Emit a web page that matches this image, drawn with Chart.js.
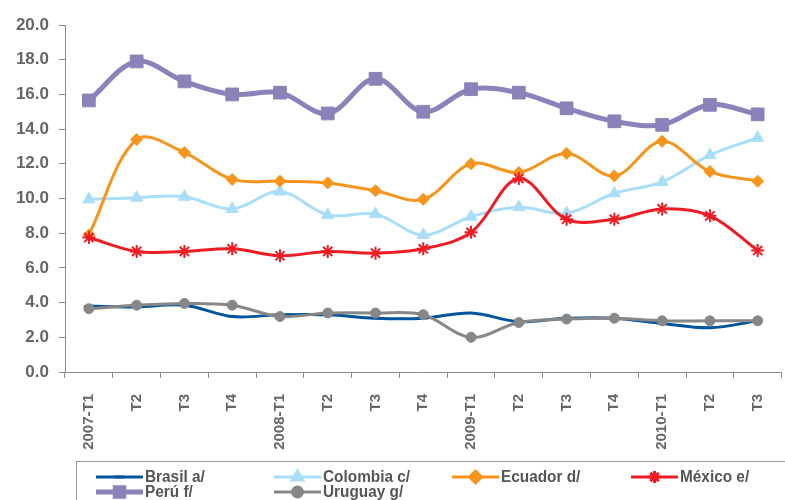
<!DOCTYPE html>
<html>
<head>
<meta charset="utf-8">
<script src="https://cdn.jsdelivr.net/npm/chart.js@4.4.1/dist/chart.umd.min.js"></script>
<style>
  html, body { margin: 0; padding: 0; background: #fff; overflow: hidden; }
  #wrap { width: 792px; height: 500px; }
</style>
</head>
<body>
<div id="wrap"><canvas id="chart"></canvas></div>
<script>
const quarters = ["2007-T1", "T2", "T3", "T4", "2008-T1", "T2", "T3", "T4",
  "2009-T1", "T2", "T3", "T4", "2010-T1", "T2", "T3"];

const brasil = [3.8, 3.75, 3.85, 3.2, 3.3, 3.3, 3.1, 3.1, 3.4, 2.9, 3.1, 3.1, 2.8, 2.55, 2.95];
const colombia = [9.95, 10.05, 10.1, 9.4, 10.4, 9.05, 9.1, 7.9, 8.95, 9.5, 9.15, 10.3, 10.95, 12.5, 13.5];
const ecuador = [7.9, 13.4, 12.65, 11.1, 11.0, 10.9, 10.45, 9.95, 12.0, 11.5, 12.6, 11.3, 13.3, 11.55, 11.0];
const mexico = [7.75, 6.95, 6.95, 7.1, 6.7, 6.95, 6.85, 7.1, 8.05, 11.15, 8.8, 8.8, 9.4, 9.0, 7.0];
const peru = [15.65, 17.9, 16.75, 16.0, 16.1, 14.9, 16.9, 15.0, 16.3, 16.1, 15.2, 14.45, 14.25, 15.4, 14.85];
const uruguay = [3.65, 3.85, 3.95, 3.85, 3.2, 3.4, 3.4, 3.3, 2.0, 2.85, 3.05, 3.1, 2.95, 2.95, 2.95];

const yTicks = [0, 2, 4, 6, 8, 10, 12, 14, 16, 18, 20];

function series(label, data, color, style, radius, width, order) {
  return {
    label: label,
    data: data,
    borderColor: color,
    backgroundColor: color,
    pointBackgroundColor: color,
    pointBorderColor: color,
    borderWidth: width,
    pointStyle: style,
    pointRadius: radius,
    pointBorderWidth: style === "line" || style === "star" ? 2 : 1,
    tension: 0.35,
    order: order
  };
}

const datasets = [
  series("Brasil a/", brasil, "#00549c", "line", 5, 3, 6),
  series("Colombia c/", colombia, "#a9def9", "triangle", 7, 3, 5),
  series("Ecuador d/", ecuador, "#f7941d", "rectRot", 6, 3, 4),
  series("México e/", mexico, "#ed1c24", "star", 6.5, 3, 3),
  series("Perú f/", peru, "#8a82b9", "rect", 9, 5, 1),
  series("Uruguay g/", uruguay, "#878787", "circle", 5, 3, 2)
];

// legend drawn inside a box under the axis, 4 fixed columns like the original
const boxLegend = {
  id: "boxLegend",
  afterDraw(chart) {
    const ctx = chart.ctx;
    ctx.save();
    ctx.strokeStyle = "#9a9a9a";
    ctx.lineWidth = 1;
    ctx.strokeRect(76.5, 461.5, 760, 60);
    const cols = [96, 274, 452, 631];
    const rows = [477, 492];
    chart.data.datasets.forEach((ds, i) => {
      const x = cols[i % 4];
      const y = rows[Math.floor(i / 4)];
      ctx.strokeStyle = ds.borderColor;
      ctx.fillStyle = ds.borderColor;
      ctx.lineWidth = ds.borderWidth;
      ctx.beginPath();
      ctx.moveTo(x, y);
      ctx.lineTo(x + 47, y);
      ctx.stroke();
      Chart.helpers.drawPoint(ctx, {
        pointStyle: ds.pointStyle,
        radius: Math.min(ds.pointRadius, 6),
        rotation: 0,
        borderWidth: ds.pointBorderWidth
      }, x + 23.5, y);
      ctx.save();
      ctx.translate(x + 49, y + 1);
      ctx.scale(0.96, 1);
      ctx.font = "bold 16px 'Liberation Sans', Arial, sans-serif";
      ctx.textBaseline = "middle";
      ctx.textAlign = "left";
      ctx.fillStyle = "#555";
      ctx.fillText(ds.label, 0, 0);
      ctx.restore();
    });
    ctx.restore();
  }
};

new Chart(document.getElementById("chart").getContext("2d"), {
  type: "line",
  data: { labels: quarters, datasets: datasets },
  plugins: [boxLegend],
  options: {
    responsive: true,
    maintainAspectRatio: false,
    animation: false,
    layout: { padding: { top: 25, right: 0, left: 0, bottom: 0 } },
    scales: {
      x: {
        offset: true,
        afterFit: (scale) => { scale.height = 128; },
        grid: {
          offset: true,
          drawOnChartArea: false,
          drawTicks: true,
          tickLength: 6,
          color: "#8a8a8a"
        },
        border: { color: "#8a8a8a", width: 1 },
        ticks: {
          autoSkip: false,
          minRotation: 90,
          maxRotation: 90,
          padding: 16,
          color: "#666",
          font: { family: "'Liberation Sans', Arial, sans-serif", size: 15, weight: "bold" }
        }
      },
      y: {
        min: 0,
        max: 20,
        afterFit: (scale) => { scale.width = 65; },
        afterBuildTicks: (scale) => { scale.ticks = yTicks.map((v) => ({ value: v })); },
        grid: {
          drawOnChartArea: false,
          drawTicks: true,
          tickLength: 6,
          color: "#8a8a8a"
        },
        border: { color: "#8a8a8a", width: 1 },
        ticks: {
          padding: 10,
          color: "#666",
          font: { family: "'Liberation Sans', Arial, sans-serif", size: 17, weight: "bold" },
          callback: (v) => Number(v).toFixed(1)
        }
      }
    },
    plugins: {
      legend: { display: false },
      tooltip: { enabled: false }
    }
  }
});
</script>
</body>
</html>
